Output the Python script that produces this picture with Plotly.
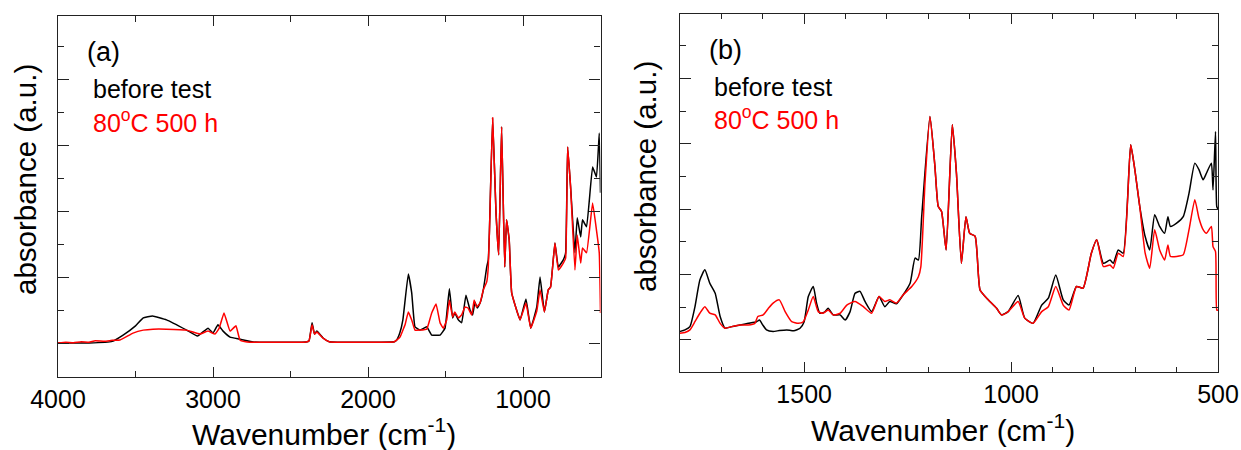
import plotly.graph_objects as go

# ---------------- data ----------------
a_wn_black = [4000, 3800, 3650, 3580, 3500, 3450, 3390, 3300, 3170, 3100, 3032, 3000, 2968, 2935, 2890,
              2830, 2740, 2400, 2380, 2361, 2345, 2330, 2290, 2250, 1830, 1815, 1795, 1775, 1740, 1718,
              1697, 1665, 1621, 1589, 1535, 1503, 1475, 1454, 1440, 1417, 1396, 1368, 1342, 1325, 1310,
              1295, 1277, 1256, 1234, 1224, 1217, 1196, 1174, 1157, 1138, 1118, 1106, 1089, 1073, 1019,
              981, 950, 911, 890, 862, 837, 822, 794, 772, 740, 725, 712, 693, 665, 650, 628, 616, 590,
              551, 526, 508, 500]
a_abs_black = [1.03, 1.03, 1.08, 1.27, 1.55, 1.79, 1.85, 1.73, 1.42, 1.24, 1.48, 1.33, 1.58, 1.39, 1.21,
               1.15, 1.06, 1.06, 1.10, 1.64, 1.30, 1.39, 1.18, 1.07, 1.07, 1.12, 1.33, 1.73, 3.12, 2.55,
               1.52, 1.42, 1.52, 1.27, 1.27, 1.48, 2.67, 1.79, 1.94, 1.73, 1.64, 2.48, 2.03, 1.88, 2.27,
               2.09, 2.24, 2.64, 3.33, 3.55, 4.36, 7.85, 4.97, 3.70, 7.58, 3.33, 4.76, 4.15, 2.55, 1.73,
               2.36, 1.48, 2.12, 3.03, 1.97, 2.64, 2.73, 4.06, 3.33, 3.55, 3.76, 6.97, 5.76, 3.76, 4.82,
               4.24, 4.76, 4.55, 6.36, 6.06, 7.39, 5.58]

a_wn_red = [4000, 3950, 3900, 3850, 3800, 3760, 3700, 3650, 3600, 3516, 3450, 3387, 3300, 3170, 3084,
            3032, 2987, 2960, 2929, 2890, 2852, 2826, 2780, 2400, 2380, 2361, 2345, 2330, 2290, 2250,
            1830, 1795, 1760, 1740, 1718, 1697, 1665, 1621, 1611, 1589, 1561, 1535, 1514, 1492, 1475,
            1454, 1440, 1417, 1396, 1374, 1355, 1331, 1315, 1300, 1277, 1256, 1234, 1224, 1213, 1196,
            1174, 1157, 1138, 1118, 1106, 1089, 1073, 1019, 981, 950, 911, 890, 862, 837, 822, 794, 772,
            740, 725, 712, 693, 665, 650, 628, 616, 590, 551, 526, 508, 500]
a_abs_red = [1.03, 1.05, 1.04, 1.07, 1.05, 1.10, 1.08, 1.11, 1.12, 1.33, 1.42, 1.45, 1.45, 1.42, 1.30,
             1.39, 1.30, 1.48, 1.94, 1.39, 1.55, 1.12, 1.06, 1.06, 1.10, 1.58, 1.30, 1.36, 1.18, 1.07,
             1.07, 1.20, 1.60, 1.97, 1.73, 1.42, 1.42, 1.45, 1.58, 1.94, 2.21, 1.64, 1.48, 1.73, 2.33,
             1.82, 1.97, 1.79, 1.88, 2.12, 2.09, 1.88, 2.33, 2.12, 2.24, 2.64, 2.88, 3.33, 5.00, 7.85,
             4.97, 3.70, 7.58, 3.33, 4.76, 4.15, 2.55, 1.73, 2.24, 1.48, 2.00, 2.64, 1.97, 2.64, 2.73,
             4.06, 3.24, 3.45, 3.60, 6.97, 5.76, 3.24, 4.30, 3.45, 3.91, 3.76, 5.27, 4.45, 3.76, 1.94]

b_wn_black = [1800, 1788, 1776, 1764, 1752, 1740, 1728, 1715, 1703, 1691, 1675, 1655, 1635, 1615, 1608,
              1600, 1591, 1575, 1560, 1542, 1525, 1510, 1500, 1490, 1478, 1470, 1462, 1450, 1442, 1430,
              1413, 1401, 1389, 1377, 1365, 1353, 1337, 1319, 1305, 1293, 1277, 1261, 1244, 1232, 1224,
              1216, 1196, 1184, 1176, 1168, 1157, 1142, 1132, 1120, 1109, 1100, 1087, 1075, 1059, 1035,
              1023, 1007, 983, 967, 947, 926, 910, 892, 874, 860, 842, 826, 806, 793, 777, 761, 753, 741,
              729, 711, 701, 689, 676, 665, 653, 641, 629, 621, 615, 600, 584, 570, 556, 546, 536, 528,
              516, 512, 506, 503, 500]
b_abs_black = [1.25, 1.30, 1.40, 2.00, 2.83, 3.14, 2.73, 2.42, 1.71, 1.35, 1.40, 1.45, 1.50, 1.55, 1.60,
               1.45, 1.30, 1.25, 1.28, 1.30, 1.27, 1.35, 1.55, 2.32, 2.63, 2.12, 1.81, 1.85, 1.96, 1.76,
               1.76, 1.60, 1.86, 2.42, 2.48, 2.17, 1.86, 2.32, 2.01, 2.17, 2.10, 2.37, 2.73, 3.50, 3.44,
               4.77, 7.84, 6.31, 5.08, 4.93, 3.75, 7.59, 6.10, 3.34, 4.77, 4.26, 4.17, 2.52, 2.27, 1.96,
               1.76, 1.86, 2.35, 1.66, 1.50, 2.06, 2.27, 2.98, 2.22, 2.06, 2.63, 2.58, 3.65, 4.06, 3.34,
               3.44, 3.34, 3.75, 3.65, 6.97, 6.21, 5.08, 4.16, 3.75, 4.83, 4.47, 4.26, 4.77, 4.47, 4.57,
               4.77, 5.49, 6.41, 6.21, 5.90, 6.10, 6.41, 5.59, 7.38, 5.08, 5.00]

b_wn_red = [1800, 1788, 1776, 1764, 1752, 1740, 1728, 1715, 1703, 1691, 1675, 1655, 1635, 1619, 1612,
            1599, 1587, 1575, 1560, 1546, 1530, 1514, 1502, 1490, 1478, 1466, 1454, 1442, 1430, 1413,
            1397, 1377, 1357, 1337, 1319, 1305, 1293, 1277, 1261, 1240, 1224, 1218, 1208, 1196, 1184,
            1176, 1168, 1157, 1142, 1132, 1120, 1109, 1100, 1087, 1075, 1059, 1035, 1023, 1007, 983,
            967, 947, 926, 910, 892, 874, 860, 842, 826, 806, 793, 777, 761, 753, 741, 729, 711, 701,
            689, 676, 665, 653, 641, 629, 621, 615, 600, 584, 570, 556, 546, 536, 528, 516, 512, 506,
            503, 500]
b_abs_red = [1.20, 1.22, 1.30, 1.55, 1.81, 2.01, 1.81, 1.76, 1.50, 1.35, 1.40, 1.45, 1.45, 1.50, 1.71,
             1.76, 1.95, 2.12, 2.22, 1.86, 1.55, 1.50, 1.55, 1.91, 2.32, 1.86, 1.81, 1.91, 1.76, 1.81,
             2.06, 2.17, 2.01, 1.81, 2.32, 2.17, 2.22, 2.12, 2.37, 2.63, 2.93, 3.24, 5.80, 7.84, 6.31,
             5.08, 4.93, 3.75, 7.59, 6.10, 3.34, 4.77, 4.26, 4.17, 2.52, 2.27, 1.96, 1.76, 1.86, 2.17,
             1.66, 1.50, 1.86, 2.01, 2.63, 2.06, 1.91, 2.63, 2.58, 3.65, 4.06, 3.24, 3.29, 3.19, 3.65,
             3.55, 6.97, 6.21, 5.08, 3.65, 3.19, 4.37, 3.75, 3.44, 3.90, 3.55, 3.55, 3.60, 4.37, 5.29,
             4.72, 4.37, 4.26, 4.47, 3.85, 3.70, 1.91, 1.90]

series_names = ["before test", "80oC 500 h"]
panel_labels = ["(a)", "(b)"]
x_title = "Wavenumber (cm<sup>-1</sup>)"
y_title = "absorbance (a.u.)"

# ---------------- figure ----------------
W, H = 1241, 450
FONT = "Liberation Sans, Arial, sans-serif"


def px(x):
    return x / W


def py(y):
    return 1 - y / H


def line(color, smooth):
    return dict(color=color, width=1.5, shape="spline", smoothing=smooth)


fig = go.Figure()
fig.add_trace(go.Scatter(x=a_wn_black, y=a_abs_black, mode="lines", line=line("black", 0.3),
                         xaxis="x", yaxis="y", name=series_names[0], showlegend=False))
fig.add_trace(go.Scatter(x=a_wn_red, y=a_abs_red, mode="lines", line=line("#ff0000", 0.3),
                         xaxis="x", yaxis="y", name=series_names[1], showlegend=False))
fig.add_trace(go.Scatter(x=b_wn_black, y=b_abs_black, mode="lines", line=line("black", 0.5),
                         xaxis="x2", yaxis="y2", name=series_names[0], showlegend=False))
fig.add_trace(go.Scatter(x=b_wn_red, y=b_abs_red, mode="lines", line=line("#ff0000", 0.5),
                         xaxis="x2", yaxis="y2", name=series_names[1], showlegend=False))

common_axis = dict(showline=True, linecolor="#222", linewidth=1.3, mirror="ticks", ticks="inside",
                   tickcolor="#222", tickwidth=1.3, showgrid=False, zeroline=False, automargin=False,
                   tickfont=dict(family=FONT, size=25, color="black"))

fig.update_layout(
    width=W, height=H, margin=dict(l=0, r=0, t=0, b=0, autoexpand=False),
    paper_bgcolor="white", plot_bgcolor="white", showlegend=False,
    font=dict(family=FONT, color="black"),
    xaxis=dict(domain=[px(58), px(600.5)], range=[4000, 500], dtick=1000, tick0=0, ticklen=10,
               minor=dict(dtick=500, ticklen=6, ticks="inside", tickcolor="#222", tickwidth=1.3),
               anchor="y", **common_axis),
    yaxis=dict(domain=[py(377), py(15.5)], range=[0, 10.95], dtick=2, tick0=1, ticklen=11,
               showticklabels=False,
               minor=dict(dtick=1, tick0=0, ticklen=6, ticks="inside", tickcolor="#222", tickwidth=1.3),
               anchor="x", **common_axis),
    xaxis2=dict(domain=[px(680), px(1218)], range=[1800, 500], dtick=500, tick0=0, ticklen=10,
                minor=dict(dtick=100, ticklen=5, ticks="inside", tickcolor="#222", tickwidth=1.3),
                anchor="y2", **common_axis),
    yaxis2=dict(domain=[py(372.3), py(14)], range=[0, 10.98], dtick=2, tick0=1, ticklen=11,
                showticklabels=False,
                minor=dict(dtick=1, tick0=0, ticklen=6, ticks="inside", tickcolor="#222", tickwidth=1.3),
                anchor="x2", **common_axis),
)

ann = []
# axis titles
ann.append(dict(x=px(324), y=py(432), text=x_title, font=dict(size=30, family=FONT)))
ann.append(dict(x=px(943), y=py(428), text=x_title, font=dict(size=30, family=FONT)))
ann.append(dict(x=px(25), y=py(180), text=y_title, textangle=-90, font=dict(size=29.5, family=FONT)))
ann.append(dict(x=px(645), y=py(177), text=y_title, textangle=-90, font=dict(size=29.5, family=FONT)))
# panel labels and in-plot legends
for (lx, ly, bx, by, rx, ry), lab in zip([(85, 52, 91, 89, 91, 121), (707, 50, 712, 87, 712, 118)], panel_labels):
    ann.append(dict(x=px(lx), y=py(ly), text=lab, xanchor="left", font=dict(size=27, family=FONT)))
    ann.append(dict(x=px(bx), y=py(by), text=series_names[0], xanchor="left",
                    font=dict(size=25, family=FONT, color="black")))
    ann.append(dict(x=px(rx), y=py(ry), text="80<sup>o</sup>C 500 h", xanchor="left",
                    font=dict(size=25, family=FONT, color="#ff0000")))

for a in ann:
    a.setdefault("xanchor", "center")
    a.update(xref="paper", yref="paper", yanchor="middle", showarrow=False)
fig.update_layout(annotations=ann)

fig.write_html("out.html")
